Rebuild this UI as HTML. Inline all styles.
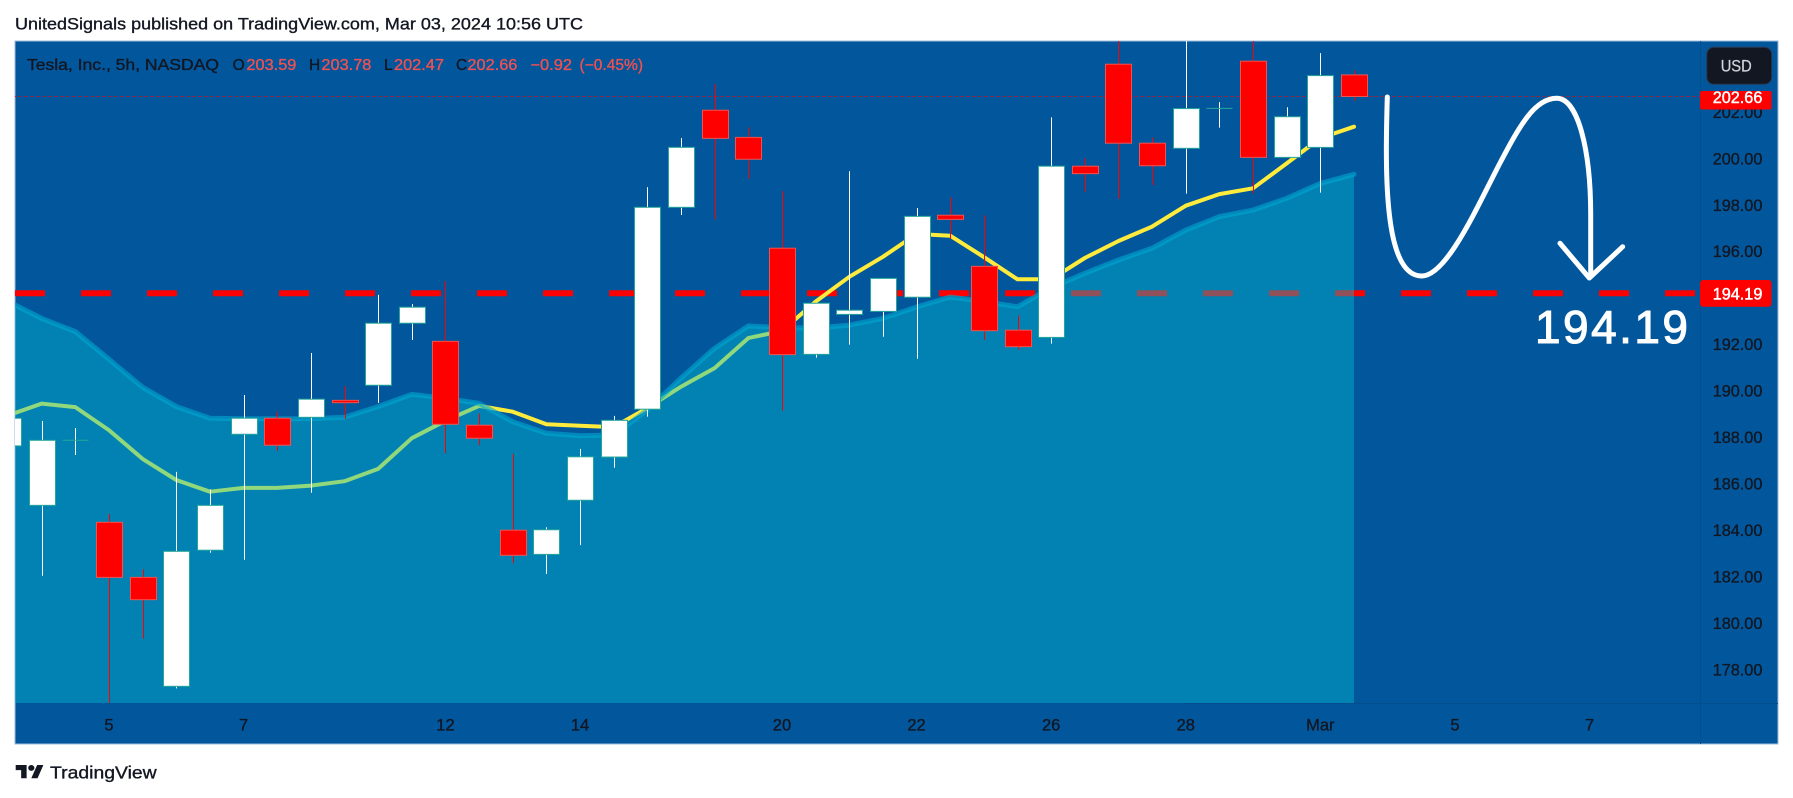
<!DOCTYPE html>
<html lang="en">
<head>
<meta charset="utf-8">
<title>Tesla 5h chart</title>
<style>
html,body{margin:0;padding:0;background:#fff;width:1793px;height:798px;overflow:hidden}
svg{display:block}
text{font-family:"Liberation Sans",sans-serif}
text[fill="#131722"]{stroke:#131722;stroke-width:.35px}
text[fill="#f05050"]{stroke:#f05050;stroke-width:.35px}
text[fill="#ffffff"]{stroke:#ffffff;stroke-width:.45px}
text[fill="#d1d4dc"]{stroke:#d1d4dc;stroke-width:.25px}
text.big{stroke-width:1.1px}
</style>
</head>
<body>
<svg id="chart" xmlns="http://www.w3.org/2000/svg" width="1793" height="798" viewBox="0 0 1793 798">
  <defs>
    <clipPath id="plot-clip"><rect x="15" y="41" width="1685" height="662"/></clipPath>
  </defs>
  <rect x="0" y="0" width="1793" height="798" fill="#ffffff"/>
  <text x="15" y="29.5" font-size="17" fill="#131722" textLength="568" lengthAdjust="spacingAndGlyphs">UnitedSignals published on TradingView.com, Mar 03, 2024 10:56 UTC</text>
  <rect x="15" y="41" width="1763" height="703" fill="#02569b" stroke="#9fbcd8" stroke-width="1"/>
  <g id="plot-under" clip-path="url(#plot-clip)"></g>
  <g id="plot-candles" clip-path="url(#plot-clip)"></g>
  <line x1="1700.5" y1="41" x2="1700.5" y2="744" stroke="#034f8e" stroke-width="1"/>
  <line x1="1184" y1="703.5" x2="1778" y2="703.5" stroke="#034f8e" stroke-width="1"/>
  <g id="y-axis"></g>
  <g id="x-axis"></g>

  <g font-size="15.5">
    <text x="27" y="70" fill="#131722" textLength="192" lengthAdjust="spacingAndGlyphs">Tesla, Inc., 5h, NASDAQ</text>
    <text x="232.6" y="70" fill="#131722">O</text>
    <text x="246.4" y="70" fill="#f05050" textLength="50" lengthAdjust="spacingAndGlyphs">203.59</text>
    <text x="309" y="70" fill="#131722">H</text>
    <text x="321.4" y="70" fill="#f05050" textLength="50" lengthAdjust="spacingAndGlyphs">203.78</text>
    <text x="384" y="70" fill="#131722">L</text>
    <text x="394" y="70" fill="#f05050" textLength="50" lengthAdjust="spacingAndGlyphs">202.47</text>
    <text x="456" y="70" fill="#131722">C</text>
    <text x="467.4" y="70" fill="#f05050" textLength="50" lengthAdjust="spacingAndGlyphs">202.66</text>
    <text x="530.4" y="70" fill="#f05050" textLength="41.6" lengthAdjust="spacingAndGlyphs">−0.92</text>
    <text x="579.5" y="70" fill="#f05050" textLength="63.5" lengthAdjust="spacingAndGlyphs">(−0.45%)</text>
  </g>

  <g>
    <rect x="1700" y="91" width="71.5" height="18.5" rx="2" fill="#ff0000"/>
    <text x="1712.7" y="102.8" font-size="16.5" fill="#ffffff" textLength="49.7" lengthAdjust="spacingAndGlyphs">202.66</text>
  </g>
  <g>
    <rect x="1700" y="280" width="71.5" height="26.7" rx="3" fill="#ff0000"/>
    <text x="1712.7" y="299.3" font-size="16.5" fill="#ffffff" textLength="49.7" lengthAdjust="spacingAndGlyphs">194.19</text>
  </g>
  <g>
    <rect x="1706.7" y="47.3" width="65" height="37" rx="7" fill="#131722" stroke="#2a3a55" stroke-width="1"/>
    <text x="1720.7" y="71.5" font-size="16.5" fill="#d1d4dc" textLength="31" lengthAdjust="spacingAndGlyphs">USD</text>
  </g>

  <g fill="none" stroke="#ffffff" stroke-width="5" stroke-linecap="round" stroke-linejoin="round">
    <path d="M1387.3,97 C1385,175 1384,276 1421.7,276 C1447,276 1478,205 1500,163 C1520,125 1535,98.3 1556.7,98.3 C1578,98.3 1590.7,150 1590.7,215 L1590.7,276"/>
    <path d="M1560,243.3 L1589.3,278 L1622.7,246.7"/>
  </g>
  <text class="big" x="1535" y="343" font-size="46" fill="#ffffff" textLength="153" lengthAdjust="spacing">194.19</text>

  <g>
    <g transform="translate(15.7,762) scale(0.78,0.74)" fill="#131722">
      <path d="M14 22H7V11H0V4h14v18z"/>
      <circle cx="20" cy="8" r="4"/>
      <path d="M28 22h-8l7.5-18h8L28 22z"/>
    </g>
    <text x="50" y="778.5" font-size="17.5" fill="#131722" textLength="106.7" lengthAdjust="spacingAndGlyphs">TradingView</text>
  </g>
</svg>
<script>
// Candle values
const opens  = [187.62,185.06,187.86,184.33,181.96,177.27,183.13,188.12,188.81,188.85,189.58,190.23,192.90,192.12,188.51,183.99,182.95,185.28,187.14,189.20,197.89,202.07,200.90,196.13,191.56,193.28,193.41,194.02,197.55,195.35,192.60,192.29,199.66,204.05,200.65,200.43,202.15,204.18,200.04,200.47,203.59];
const closes = [188.81,187.86,187.86,181.96,181.00,183.08,185.06,188.81,187.65,189.63,189.48,192.90,193.59,188.55,187.95,182.91,184.01,187.15,188.72,197.89,200.47,200.86,199.96,191.55,193.76,193.46,194.83,197.50,197.37,192.58,191.89,199.66,199.34,200.65,199.68,202.14,202.15,200.04,201.79,203.56,202.66];
const highs  = [189.20,188.69,188.39,184.69,182.31,186.50,185.75,189.81,189.09,191.62,190.20,194.12,193.73,194.71,189.01,187.27,184.12,187.49,188.91,198.76,200.87,203.20,201.33,198.58,193.80,199.45,194.83,197.86,198.33,197.55,193.24,201.76,200.01,205.50,200.90,206.00,202.42,206.00,202.20,204.53,203.78];
const lows   = [187.30,182.03,187.23,176.25,179.32,177.18,183.02,182.72,187.40,185.60,188.78,189.47,192.18,187.31,187.66,182.57,182.11,183.35,186.68,188.88,197.56,197.37,199.11,189.13,191.42,191.98,192.32,191.37,196.53,192.18,191.76,192.02,198.56,198.26,198.85,198.48,201.32,198.49,200.04,198.52,202.47];
// Moving-average lines
const yellowLine = [188.93,189.44,189.29,188.30,187.06,186.15,185.65,185.81,185.81,185.91,186.10,186.63,187.95,188.70,189.34,189.09,188.55,188.49,188.43,189.25,190.17,190.97,192.26,192.57,193.83,194.90,195.76,196.74,196.67,195.75,194.79,194.79,195.71,196.44,197.06,197.96,198.46,198.71,199.78,200.87,201.36];
const areaLine   = [193.84,193.11,192.54,191.35,190.14,189.31,188.81,188.79,188.79,188.79,188.85,189.31,189.84,189.67,189.45,188.66,188.16,188.06,188.09,189.16,190.54,191.82,192.78,192.71,192.69,192.82,193.11,193.60,194.03,193.83,193.61,194.42,195.05,195.62,196.13,196.91,197.49,197.77,198.28,198.92,199.31];
// Axis ticks
const priceTicks = [178,180,182,184,186,188,190,192,194,196,198,200,202];
const priceTickLabels = ["178.00","180.00","182.00","184.00","186.00","188.00","190.00","192.00","194.00","196.00","198.00","200.00","202.00"];
const timeTickBars = [3,7,13,17,23,27,31,35,39,43,47];
const timeTickLabels = ["5","7","12","14","20","22","26","28","Mar","5","7"];
const lastPrice = 202.66;
const targetPrice = 194.19;

const NS = 'http://www.w3.org/2000/svg';
function xScale(i){ return 8 + 33.65 * i; }
function yScale(p){ return 158.3 + (200 - p) * 23.23; }
function make(tag, parent, attrs){
  const el = document.createElementNS(NS, tag);
  for (const k in attrs) el.setAttribute(k, attrs[k]);
  parent.appendChild(el);
  return el;
}
const under = document.getElementById('plot-under');
const candleLayer = document.getElementById('plot-candles');
const yAxis = document.getElementById('y-axis');
const xAxis = document.getElementById('x-axis');

// Last-price dotted line
const lastLine = make('line', under, {x1:15, x2:1700, y1:yScale(lastPrice), y2:yScale(lastPrice), stroke:'#ff0000', 'stroke-width':1, 'stroke-dasharray':'1 2'});



// Target dashed line
const targetLine = make('line', under, {x1:15, x2:1700, y1:yScale(targetPrice), y2:yScale(targetPrice), stroke:'#ff0000', 'stroke-width':6, 'stroke-dasharray':'30 36'});



// Yellow moving average
const yellowPts = yellowLine.map(function(v, i){ return xScale(i).toFixed(1) + ',' + yScale(v).toFixed(1); }).join(' ');
const yellow = make('polyline', under, {points:yellowPts, fill:'none', stroke:'#ffeb3b', 'stroke-width':4, 'stroke-linecap':'round', 'stroke-linejoin':'round'});



// Area moving average (drawn above lines, tinting them)
const lastIdx = areaLine.length - 1;
const areaPts = areaLine.map(function(v, i){ return xScale(i).toFixed(1) + ',' + yScale(v).toFixed(1); }).join(' ');
const areaFill = make('polygon', under, {points:areaPts + ' ' + xScale(lastIdx).toFixed(1) + ',703 ' + xScale(0).toFixed(1) + ',703', fill:'#00bcd4', 'fill-opacity':0.43, stroke:'none'});


const areaEdge = make('polyline', under, {points:areaPts, fill:'none', stroke:'#00a8d0', 'stroke-opacity':0.6, 'stroke-width':5, 'stroke-linecap':'round', 'stroke-linejoin':'round'});



// Candles
opens.forEach(function(o, i){
  const c = closes[i];
  const up = c >= o;
  const cx = Math.round(xScale(i)) + 0.5;
  const g = make('g', candleLayer, {});
  
  
  make('line', g, {x1:cx, x2:cx, y1:yScale(highs[i]), y2:yScale(lows[i]), stroke: up ? '#ffffff' : '#ff0000', 'stroke-width':1});
  const top = yScale(Math.max(o, c));
  const bottom = yScale(Math.min(o, c));
  if (bottom - top < 0.5) {
    make('line', g, {x1:cx - 13, x2:cx + 13, y1:top, y2:top, stroke:'#26a69a', 'stroke-width':1});
  } else {
    make('rect', g, {x:cx - 13, y:top, width:26, height:bottom - top, fill: up ? '#ffffff' : '#ff0000', stroke: up ? '#26a69a' : '#ef5350', 'stroke-width':1});
  }
});

// Price axis labels
priceTicks.forEach(function(p, i){
  const t = make('text', yAxis, {x:1712.7, y:yScale(p) + 6, 'font-size':16.5, fill:'#131722', textLength:49.7, lengthAdjust:'spacingAndGlyphs'});
  
  
  t.textContent = priceTickLabels[i];
});

// Time axis labels
timeTickBars.forEach(function(b, i){
  const t = make('text', xAxis, {x:xScale(b), y:730.5, 'font-size':16.5, fill:'#131722', 'text-anchor':'middle'});
  
  
  t.textContent = timeTickLabels[i];
});
</script>
</body>
</html>
